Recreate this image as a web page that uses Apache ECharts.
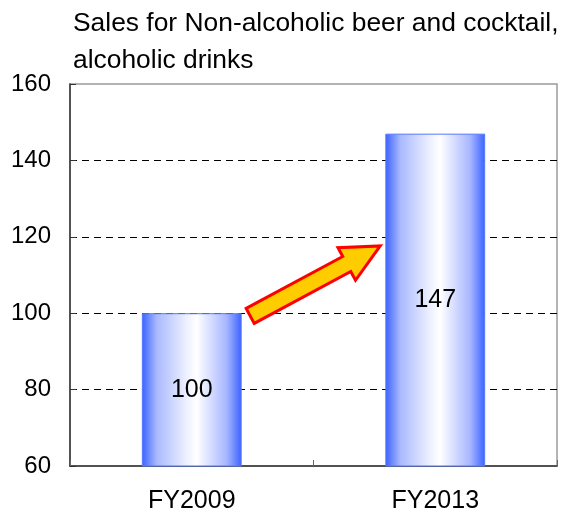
<!DOCTYPE html>
<html>
<head>
<meta charset="utf-8">
<script src="https://cdn.jsdelivr.net/npm/echarts@6/dist/echarts.min.js"></script>
<style>html,body{margin:0;padding:0;background:#fff;}#c{width:561px;height:515px;}</style>
</head>
<body>
<div id="c"></div>
<script>
const titleText = "Sales for Non-alcoholic beer and cocktail,\nalcoholic drinks";
const categories = ["FY2009", "FY2013"];
const salesIndex = [100, 147];
const yTicks = { min: 60, max: 160, interval: 20 };
// arrow annotation anchors: [category index offset, value]
const arrowTail = [0.24, 99.3];
const arrowTip = [1 - 0.226, 117.6];

const font = "'Liberation Sans', Arial, sans-serif";
const chart = echarts.init(document.getElementById('c'), null, { renderer: 'canvas' });

const barGradient = new echarts.graphic.LinearGradient(0, 0, 1, 0, [
  { offset: 0, color: '#3a62ff' },
  { offset: 0.15, color: '#a9b9ff' },
  { offset: 0.45, color: '#eef1ff' },
  { offset: 0.55, color: '#ffffff' },
  { offset: 0.85, color: '#a7b6ff' },
  { offset: 1, color: '#3a62ff' }
]);

chart.setOption({
  animation: false,
  backgroundColor: '#ffffff',
  title: {
    text: titleText,
    left: 73, top: 5, padding: 0,
    textStyle: { fontFamily: font, fontSize: 26.4, fontWeight: 'normal', color: '#000', lineHeight: 37 }
  },
  grid: { left: 70, right: 4, top: 84, bottom: 49, show: true, borderColor: '#9a9a9a', borderWidth: 1.5, backgroundColor: 'transparent' },
  xAxis: {
    type: 'category', data: categories,
    axisLine: { lineStyle: { color: '#333', width: 1.5 } },
    axisTick: { show: true, inside: true, length: 6, lineStyle: { color: '#666' } },
    axisLabel: { fontFamily: font, fontSize: 25, color: '#000', margin: 23 }
  },
  yAxis: {
    type: 'value', min: yTicks.min, max: yTicks.max, interval: yTicks.interval,
    axisLine: { show: true, lineStyle: { color: '#333', width: 1.5 } },
    axisTick: { show: true, inside: true, length: 6, lineStyle: { color: '#333' } },
    axisLabel: { fontFamily: font, fontSize: 24, color: '#000', margin: 19 },
    splitLine: { show: true, showMinLine: false, showMaxLine: false, lineStyle: { color: '#000', type: [7, 5], width: 1 } }
  },
  series: [{
    type: 'bar', data: salesIndex, barWidth: '41%',
    itemStyle: { color: barGradient, borderColor: '#5577ff', borderWidth: 1 },
    label: { show: true, position: 'inside', fontFamily: font, fontSize: 25, color: '#000' }
  }]
});

function drawArrow() {
  const p0 = chart.convertToPixel({ gridIndex: 0 }, [0, arrowTail[1]]);
  const p1 = chart.convertToPixel({ gridIndex: 0 }, [1, arrowTip[1]]);
  const catW = p1[0] - p0[0];
  const tx = p0[0] + arrowTail[0] * catW, ty = p0[1];
  const hx = p0[0] + arrowTip[0] * catW, hy = p1[1];
  const dx = hx - tx, dy = hy - ty;
  const L = Math.sqrt(dx * dx + dy * dy);
  const ux = dx / L, uy = dy / L, vx = -uy, vy = ux;
  const h = 8.5, H = 18.5, headLen = 38;
  const Ls = L - headLen;
  const local = [[0, -h], [Ls, -h], [Ls, -H], [L, 0], [Ls, H], [Ls, h], [0, h]];
  const pts = local.map(([u, v]) => [tx + u * ux + v * vx, ty + u * uy + v * vy]);
  chart.setOption({
    graphic: [{
      type: 'polygon', z: 100,
      shape: { points: pts },
      style: { fill: '#ffcc00', stroke: '#ff0000', lineWidth: 3, lineJoin: 'miter' }
    }]
  });
}
drawArrow();
</script>
</body>
</html>
